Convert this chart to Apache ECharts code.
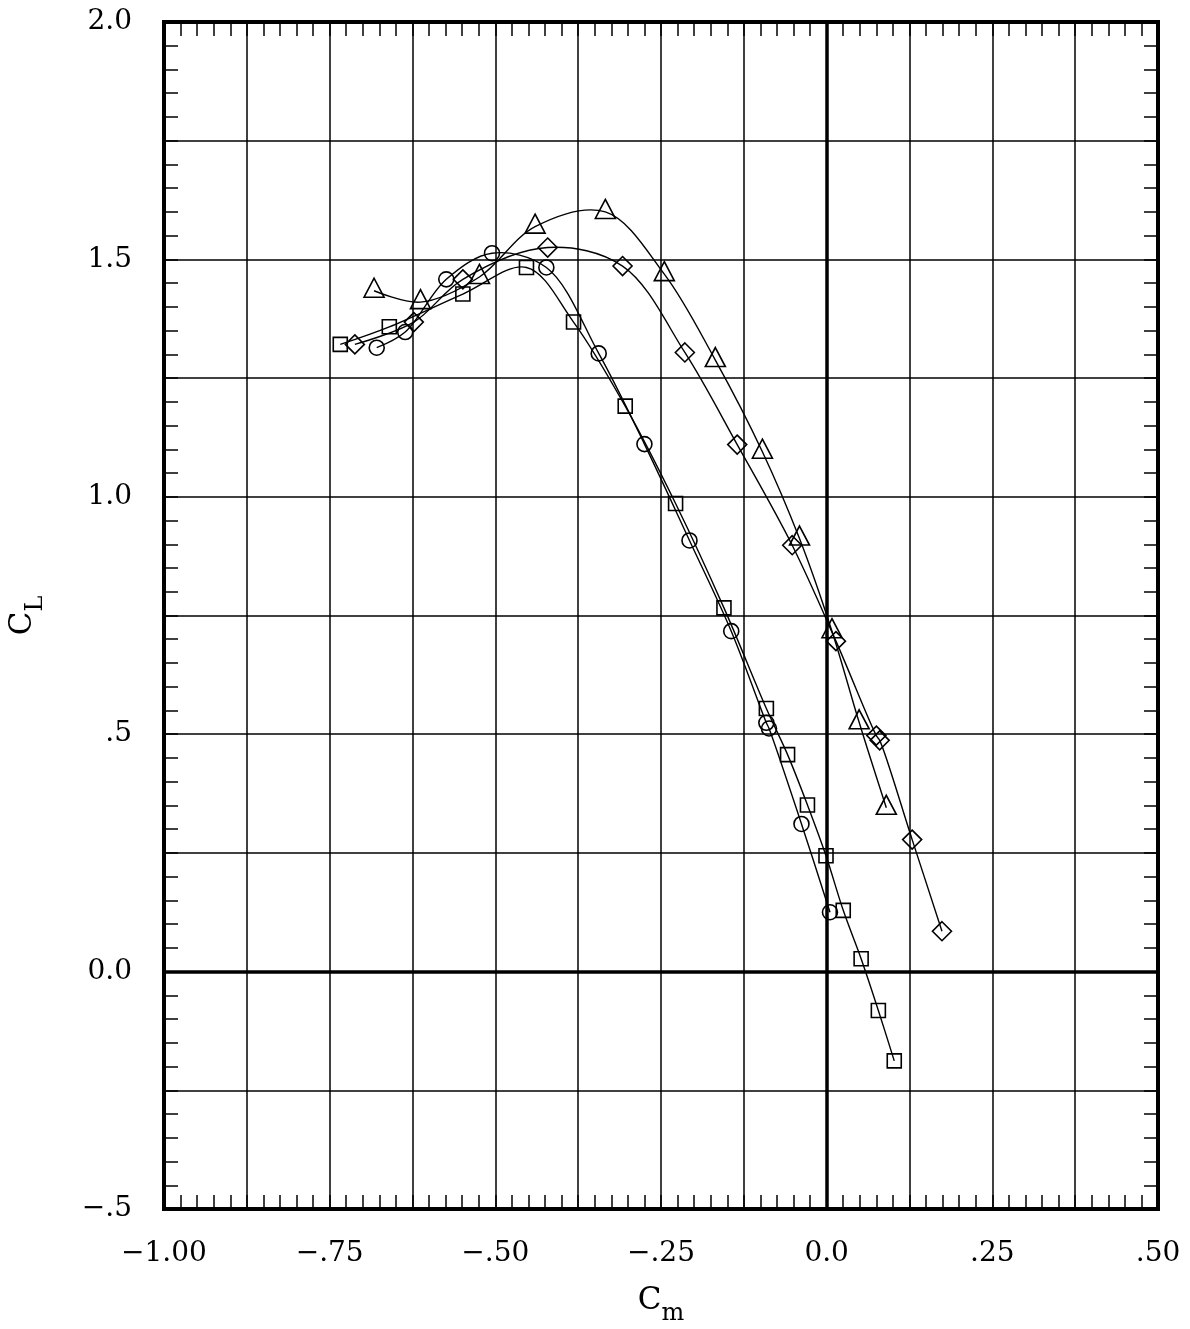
<!DOCTYPE html>
<html><head><meta charset="utf-8">
<script src="https://cdn.jsdelivr.net/npm/echarts@6/dist/echarts.min.js"></script>
<style>html,body{margin:0;padding:0;background:#fff}#c{width:1190px;height:1329px}</style>
</head><body><div id="c"></div>
<script>
// ---- data (Cm, CL) ----
const circleCm = [-0.679, -0.636, -0.574, -0.505, -0.423, -0.344, -0.275, -0.207, -0.144, -0.091, -0.087, -0.038, 0.005];
const circleCl = [1.314, 1.347, 1.458, 1.513, 1.483, 1.302, 1.111, 0.908, 0.717, 0.524, 0.512, 0.311, 0.125];

const squareCm = [-0.734, -0.660, -0.549, -0.453, -0.382, -0.304, -0.228, -0.155, -0.091, -0.059, -0.029, -0.001, 0.025, 0.052, 0.078, 0.102];
const squareCl = [1.321, 1.358, 1.427, 1.483, 1.368, 1.191, 0.986, 0.766, 0.554, 0.457, 0.351, 0.244, 0.129, 0.027, -0.082, -0.188];

const diamondCm = [-0.712, -0.623, -0.549, -0.421, -0.308, -0.214, -0.135, -0.052, 0.014, 0.075, 0.080, 0.129, 0.174];
const diamondCl = [1.321, 1.368, 1.458, 1.525, 1.486, 1.304, 1.110, 0.898, 0.696, 0.497, 0.487, 0.278, 0.085];

const triangleCm = [-0.683, -0.613, -0.524, -0.440, -0.334, -0.245, -0.168, -0.097, -0.041, 0.008, 0.049, 0.090];
const triangleCl = [1.434, 1.410, 1.463, 1.569, 1.600, 1.469, 1.288, 1.095, 0.912, 0.717, 0.525, 0.345];

// ---- tick labels ----
const xTickValues = [-1, -0.75, -0.5, -0.25, 0, 0.25, 0.5];
const xTickLabels = ['\u22121.00', '\u2212.75', '\u2212.50', '\u2212.25', '0.0', '.25', '.50'];
const yTickValues = [-0.5, 0, 0.5, 1, 1.5, 2];
const yTickLabels = ['\u2212.5', '0.0', '.5', '1.0', '1.5', '2.0'];

function lookup(vals, labels) {
  return function (v) {
    const i = vals.findIndex(t => Math.abs(t - v) < 1e-6);
    return i < 0 ? '' : labels[i];
  };
}
function pairs(xs, ys) { return xs.map((x, i) => [x, ys[i]]); }

const FONT = 'DejaVu Serif';
const tickStyle = { color: '#000', width: 1.5 };
const richName = {
  c: { fontFamily: FONT, fontSize: 31, lineHeight: 31, color: '#000', padding: [0, 0, 10, 0], verticalAlign: 'bottom' },
  s: { fontFamily: FONT, fontSize: 24, lineHeight: 24, color: '#000', verticalAlign: 'bottom' }
};

function makeAxis(extra) {
  return Object.assign({
    type: 'value',
    axisLine: { show: false, onZero: false },
    axisTick: { show: true, inside: true, length: 14, lineStyle: tickStyle },
    minorTick: { show: true, splitNumber: 5, length: 14, lineStyle: tickStyle },
    minorSplitLine: { show: false }
  }, extra);
}

const xMin = -1, xMax = 0.5, xStep = 0.125;
const yMin = -0.5, yMax = 2.0, yStep = 0.25;

// centripetal Catmull-Rom through the pixel positions given by the axes
function splinePath(p) {
  let d = 'M' + p[0][0] + ' ' + p[0][1];
  const dist = (a, b) => Math.hypot(b[0] - a[0], b[1] - a[1]);
  for (let i = 0; i < p.length - 1; i++) {
    const P1 = p[i], P2 = p[i + 1];
    const P0 = i > 0 ? p[i - 1] : null;
    const P3 = i + 2 < p.length ? p[i + 2] : null;
    const d2 = dist(P1, P2), s2 = Math.sqrt(d2);
    let c1 = P1.slice(), c2 = P2.slice();
    if (P0) {
      const d1 = dist(P0, P1), s1 = Math.sqrt(d1);
      if (d1 > 1e-6) {
        const den = 3 * s1 * (s1 + s2);
        c1 = [0, 1].map(k => (d1 * P2[k] - d2 * P0[k] + (2 * d1 + 3 * s1 * s2 + d2) * P1[k]) / den);
      }
    }
    if (P3) {
      const d3 = dist(P2, P3), s3 = Math.sqrt(d3);
      if (d3 > 1e-6) {
        const den = 3 * s3 * (s3 + s2);
        c2 = [0, 1].map(k => (d3 * P1[k] - d2 * P3[k] + (2 * d3 + 3 * s3 * s2 + d2) * P2[k]) / den);
      }
    }
    d += ' C' + c1[0] + ' ' + c1[1] + ' ' + c2[0] + ' ' + c2[1] + ' ' + P2[0] + ' ' + P2[1];
  }
  return d;
}

function curveSeries(xs, ys) {
  const pts = pairs(xs, ys);
  return {
    type: 'custom',
    xAxisIndex: 0, yAxisIndex: 0,
    data: pts,
    silent: true,
    z: 4,
    renderItem: function (params, api) {
      if (params.dataIndex !== 0) return null;
      const p = pts.map(v => api.coord(v));
      return {
        type: 'path',
        shape: { pathData: splinePath(p) },
        style: { fill: 'none', stroke: '#000', lineWidth: 1.4 }
      };
    }
  };
}

function markerSeries(xs, ys, symbol, size, offset) {
  return {
    type: 'scatter',
    xAxisIndex: 0, yAxisIndex: 0,
    data: pairs(xs, ys),
    symbol: symbol,
    symbolSize: size,
    symbolOffset: offset || [0, 0],
    itemStyle: { color: 'rgba(0,0,0,0)', borderColor: '#000', borderWidth: 1.6, opacity: 1 },
    emphasis: { disabled: true },
    silent: true,
    z: 5
  };
}

const zeroLines = {
  type: 'line',
  xAxisIndex: 0, yAxisIndex: 0,
  data: [],
  silent: true,
  markLine: {
    silent: true,
    symbol: ['none', 'none'],
    label: { show: false },
    lineStyle: { color: '#000', width: 3.5, type: 'solid' },
    emphasis: { disabled: true },
    data: [{ xAxis: 0 }, { yAxis: 0 }]
  }
};

const chart = echarts.init(document.getElementById('c'), null, { renderer: 'canvas' });
chart.setOption({
  animation: false,
  backgroundColor: '#fff',
  grid: {
    left: 164, right: 32, top: 22, bottom: 120,
    show: true, borderColor: '#000', borderWidth: 4, backgroundColor: 'rgba(0,0,0,0)',
    containLabel: false, outerBoundsMode: 'none'
  },
  xAxis: [
    makeAxis({
      position: 'bottom', min: xMin, max: xMax, interval: xStep,
      splitLine: { show: true, lineStyle: { color: '#000', width: 1.5 } },
      axisLabel: { show: true, margin: 31, color: '#000', fontFamily: FONT, fontSize: 28,
        showMinLabel: true, showMaxLabel: true, hideOverlap: false, formatter: lookup(xTickValues, xTickLabels) },
      name: '{c|C}{s|m}', nameLocation: 'middle', nameGap: 86,
      nameTextStyle: { rich: richName }
    }),
    makeAxis({
      position: 'top', min: xMin, max: xMax, interval: xStep,
      splitLine: { show: false }, axisLabel: { show: false }
    })
  ],
  yAxis: [
    makeAxis({
      position: 'left', min: yMin, max: yMax, interval: yStep,
      splitLine: { show: true, lineStyle: { color: '#000', width: 1.5 } },
      axisLabel: { show: true, margin: 32, color: '#000', fontFamily: FONT, fontSize: 28,
        showMinLabel: true, showMaxLabel: true, hideOverlap: false, formatter: lookup(yTickValues, yTickLabels) },
      name: '{c|C}{s|L}', nameLocation: 'middle', nameGap: 116, nameRotate: 90,
      nameTextStyle: { rich: richName }
    }),
    makeAxis({
      position: 'right', min: yMin, max: yMax, interval: yStep,
      splitLine: { show: false }, axisLabel: { show: false }
    })
  ],
  series: [
    zeroLines,
    curveSeries(circleCm, circleCl),
    curveSeries(squareCm, squareCl),
    curveSeries(diamondCm, diamondCl),
    curveSeries(triangleCm, triangleCl),
    markerSeries(circleCm, circleCl, 'circle', 15),
    markerSeries(squareCm, squareCl, 'rect', 14),
    markerSeries(diamondCm, diamondCl, 'diamond', 19),
    markerSeries(triangleCm, triangleCl, 'triangle', [20, 19], [0, -3])
  ]
});
</script>
</body></html>
